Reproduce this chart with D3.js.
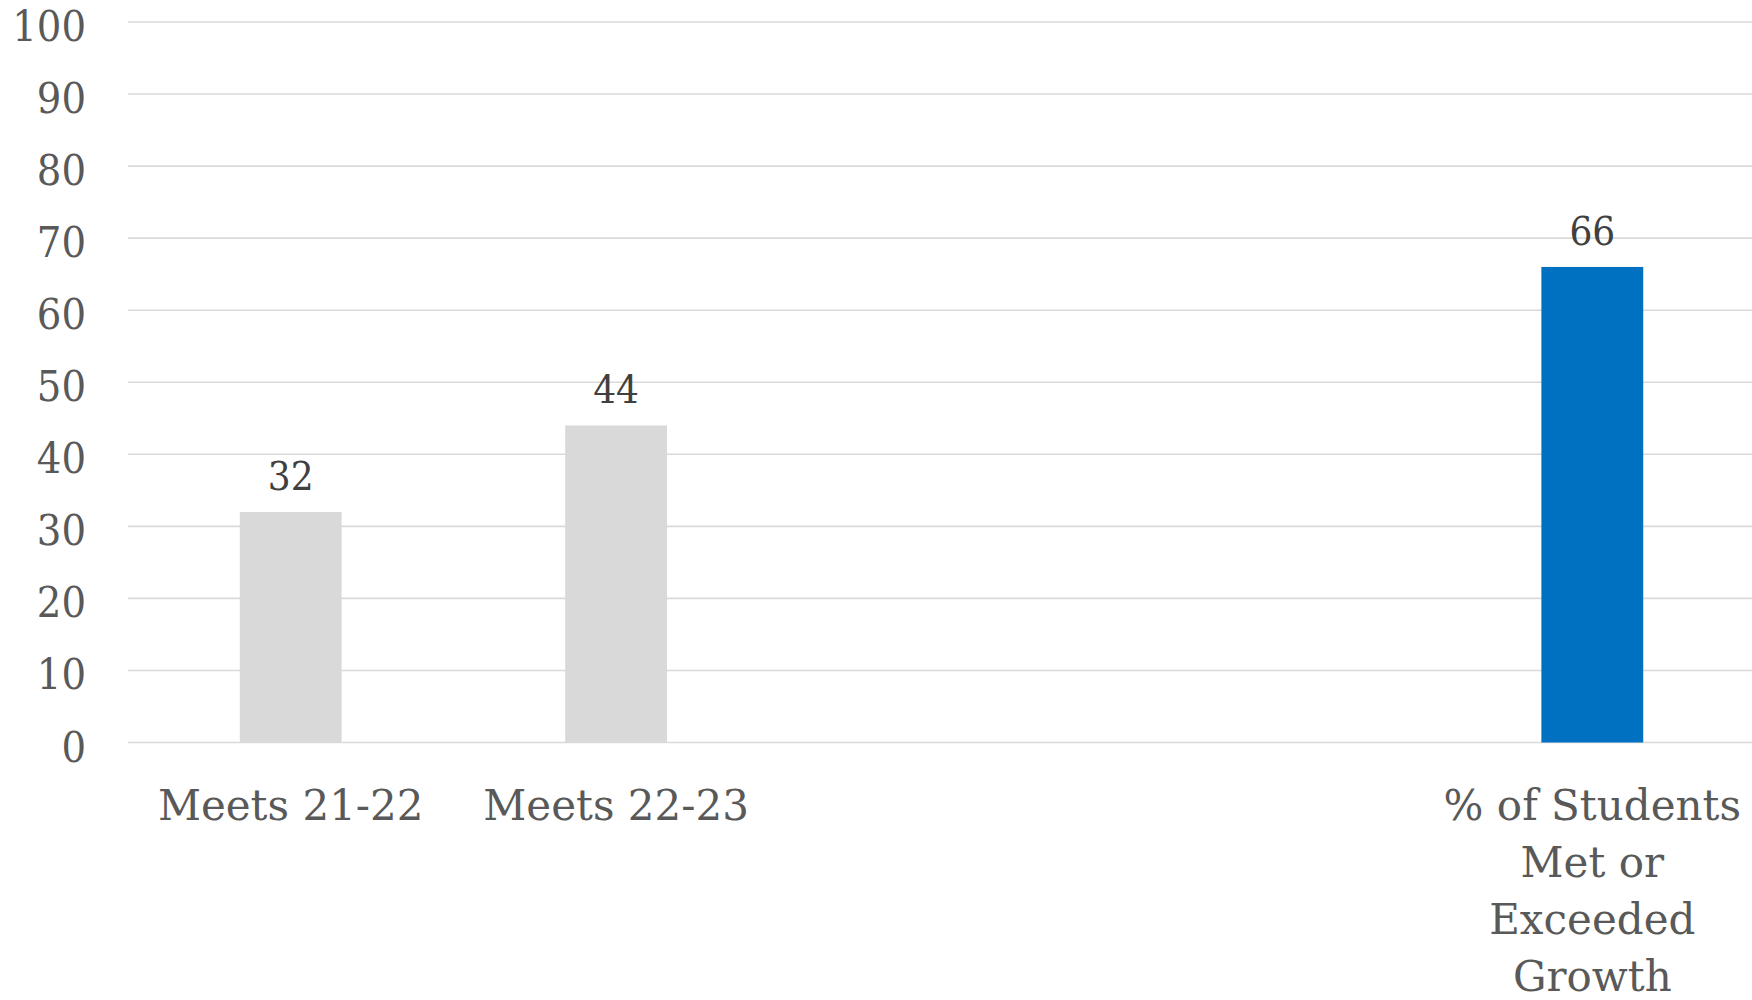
<!DOCTYPE html>
<html>
<head>
<meta charset="utf-8">
<script src="https://cdn.jsdelivr.net/npm/d3@7"></script>
<style>
  html, body { margin: 0; padding: 0; background: #ffffff; }
  svg { display: block; }
</style>
</head>
<body>
<svg id="chart" width="1752" height="1000"></svg>
<script>
// ---- data ----
const categories = ["Meets 21-22", "Meets 22-23", "", " ", "% of Students Met or Exceeded Growth"];
const values = [32, 44, null, null, 66];
const barColors = ["#d9d9d9", "#d9d9d9", null, null, "#0070c0"];
const yTicks = [0, 10, 20, 30, 40, 50, 60, 70, 80, 90, 100];

// ---- layout ----
const W = 1752, H = 1000;
const plotLeft = 128, plotRight = 1755, plotTop = 22, plotBottom = 742.5;

const svg = d3.select("#chart");

const x = d3.scaleBand()
  .domain(categories)
  .range([plotLeft, plotRight])
  .paddingInner(0.687)
  .paddingOuter(0.3435);

const y = d3.scaleLinear()
  .domain([0, 100])
  .range([plotBottom, plotTop]);

// gridlines
svg.append("g")
  .selectAll("line")
  .data(yTicks)
  .join("line")
  .attr("x1", plotLeft)
  .attr("x2", W)
  .attr("y1", d => y(d))
  .attr("y2", d => y(d))
  .attr("stroke", "#d9d9d9")
  .attr("stroke-width", 1.6);

// y axis labels
const yAxis = d3.axisLeft(y).tickValues(yTicks).tickSize(0).tickPadding(0);
const yg = svg.append("g")
  .attr("transform", `translate(86,0)`)
  .call(yAxis);
yg.select(".domain").remove();
yg.selectAll("text")
  .attr("x", 0)
  .attr("dy", "0.43em")
  .attr("fill", "#595959")
  .style("font-family", "'DejaVu Serif Condensed', 'DejaVu Serif', serif")
  .style("font-size", "43px")
  .attr("text-anchor", "end");

// bars
const barData = categories.map((c, i) => ({ c, v: values[i], color: barColors[i] }))
  .filter(d => d.v !== null);

svg.append("g")
  .selectAll("rect")
  .data(barData)
  .join("rect")
  .attr("x", d => x(d.c))
  .attr("width", x.bandwidth())
  .attr("y", d => y(d.v))
  .attr("height", d => y(0) - y(d.v))
  .attr("fill", d => d.color);

// data labels
svg.append("g")
  .selectAll("text")
  .data(barData)
  .join("text")
  .attr("x", d => x(d.c) + x.bandwidth() / 2)
  .attr("y", d => y(d.v) - 22)
  .attr("text-anchor", "middle")
  .attr("fill", "#404040")
  .style("font-family", "'DejaVu Serif Condensed', 'DejaVu Serif', serif")
  .style("font-size", "40px")
  .text(d => d.v);

// category labels with wrapping
const catFont = "42px 'DejaVu Serif', serif";
const ctx = document.createElement("canvas").getContext("2d");
ctx.font = catFont;
function wrap(text, maxW) {
  const words = text.split(" ").filter(w => w.length);
  const lines = [];
  let cur = "";
  words.forEach(w => {
    const t = cur ? cur + " " + w : w;
    if (ctx.measureText(t).width <= maxW || !cur) cur = t;
    else { lines.push(cur); cur = w; }
  });
  if (cur) lines.push(cur);
  return lines;
}
const step = x.step();
const catG = svg.append("g");
categories.forEach(c => {
  if (!c.trim()) return;
  const lines = wrap(c, step * 0.98);
  const t = catG.append("text")
    .attr("text-anchor", "middle")
    .attr("fill", "#595959")
    .style("font-family", "'DejaVu Serif', serif")
    .style("font-size", "42px");
  lines.forEach((ln, i) => {
    t.append("tspan")
      .attr("x", x(c) + x.bandwidth() / 2)
      .attr("y", 820 + i * 57)
      .text(ln);
  });
});
</script>
</body>
</html>
